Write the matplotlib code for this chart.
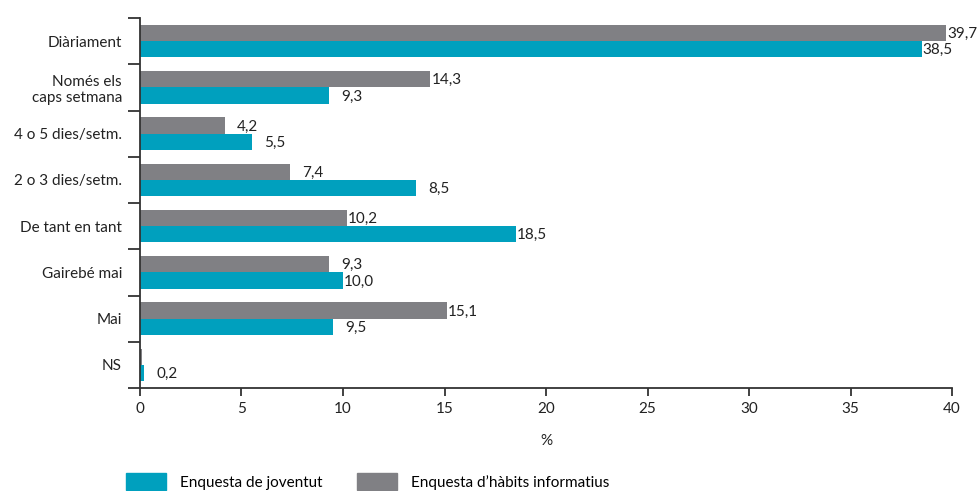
import matplotlib
matplotlib.use("Agg")
import matplotlib.pyplot as plt
from matplotlib.patches import Patch
import numpy as np

plt.rcParams['font.family'] = ['Lato', 'DejaVu Sans']

categories = ["Diàriament", "Només els\ncaps setmana", "4 o 5 dies/setm.", "2 o 3 dies/setm.",
              "De tant en tant", "Gairebé mai", "Mai", "NS"]
joventut = [38.5, 9.3, 5.5, 13.6, 18.5, 10.0, 9.5, 0.2]
joventut_labels = ["38,5", "9,3", "5,5", "8,5", "18,5", "10,0", "9,5", "0,2"]
habits = [39.7, 14.3, 4.2, 7.4, 10.2, 9.3, 15.1, 0.1]
habits_labels = ["39,7", "14,3", "4,2", "7,4", "10,2", "9,3", "15,1", ""]
xticks = [0, 5, 10, 15, 20, 25, 30, 35, 40]
series_names = ["Enquesta de joventut", "Enquesta d\u2019hàbits informatius"]

CYAN = "#00A0BE"
GRAY = "#808084"
AXC = "#333333"
TXT = "#222222"

fig = plt.figure(figsize=(9.78, 4.91), dpi=100)
ax = fig.add_axes([140/978, 1-388/491, (952-140)/978, (388-18)/491])

y = np.arange(len(categories))
h = 0.35
ax.barh(y - h/2, habits, height=h, color=GRAY)
ax.barh(y + h/2, joventut, height=h, color=CYAN)


def put_label(v, yy, lab):
    off = 1 if len(lab.split(",")[0]) >= 2 else 12
    ax.annotate(lab, (v, yy), xytext=(off, -1), textcoords='offset pixels',
                ha='left', va='center', fontsize=11, color=TXT)


for yi, v, lab in zip(y, habits, habits_labels):
    if lab:
        put_label(v, yi - h/2, lab)
for yi, v, lab in zip(y, joventut, joventut_labels):
    put_label(v, yi + h/2, lab)

ax.set_xlim(0, 40)
ax.set_ylim(len(categories) - 0.5, -0.5)
ax.set_xticks(xticks)
ax.set_xticklabels([str(t) for t in xticks], fontsize=11, color=TXT)
ax.set_yticks(y)
ax.set_yticklabels(categories, fontsize=11, color=TXT, ha='right', linespacing=1.15)
ax.set_yticks(np.arange(len(categories) + 1) - 0.5, minor=True)
ax.tick_params(axis='y', which='major', length=0, pad=13)
ax.tick_params(axis='y', which='minor', length=9, width=1.3, color=AXC)
ax.tick_params(axis='x', which='major', length=6, width=1.3, color=AXC, pad=4)
for s in ['top', 'right']:
    ax.spines[s].set_visible(False)
for s in ['left', 'bottom']:
    ax.spines[s].set_color(AXC)
    ax.spines[s].set_linewidth(1.3)
ax.set_xlabel("%", fontsize=11, color=TXT, labelpad=13)

handles = [Patch(color=CYAN), Patch(color=GRAY)]
fig.legend(handles, series_names, loc='lower left', bbox_to_anchor=(120/978, -0.011),
           ncol=2, frameon=False, fontsize=11, handlelength=2.6, handleheight=1.4,
           handletextpad=0.9, columnspacing=2.3, borderaxespad=0)

fig.savefig("out.png", dpi=100)
